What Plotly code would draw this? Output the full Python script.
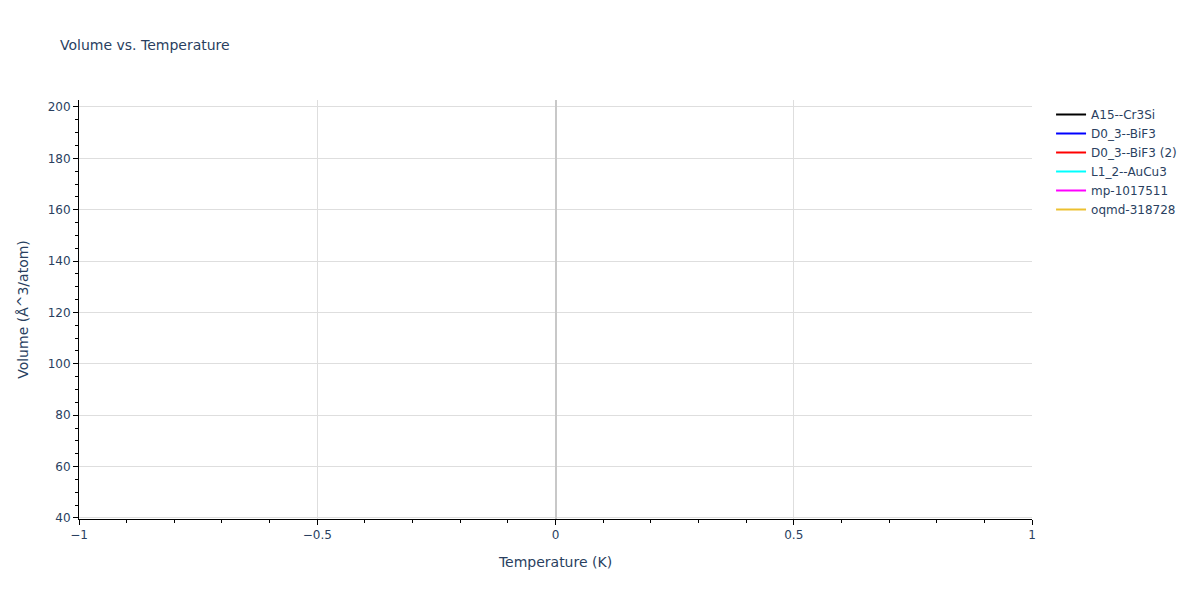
import plotly.graph_objects as go

# each structure only has a single point at T = 0 K, so no line gets drawn
names = ['A15--Cr3Si', 'D0_3--BiF3', 'D0_3--BiF3 (2)', 'L1_2--AuCu3', 'mp-1017511', 'oqmd-318728']
colors = ['black', 'blue', 'red', 'cyan', 'magenta', '#ecc030']
temperature = [0.0]
volumes = [[48.0], [201.0], [200.5], [42.0], [40.5], [60.0]]

fig = go.Figure()
for name, color, vol in zip(names, colors, volumes):
    fig.add_trace(go.Scatter(x=temperature, y=vol, mode='lines', name=name,
                             line=dict(color=color, width=2)))

axis_style = dict(
    showline=True, linecolor='black', linewidth=1,
    ticks='outside', tickcolor='black', ticklen=5,
    showgrid=True, gridcolor='#dedede', gridwidth=1,
    title_font=dict(size=14),
)

# margins are a bit smaller at left/top since the page body adds 8px
fig.update_layout(
    template='plotly_white',
    font=dict(family='Verdana, DejaVu Sans, sans-serif', size=12, color='#2a3f5f'),
    title=dict(text='Volume vs. Temperature', x=52 / 1200, y=0.938, yanchor='middle',
               font=dict(size=14)),
    width=1200, height=600,
    margin=dict(l=71, r=176, t=92, b=89),
    plot_bgcolor='white',
    xaxis=dict(title='Temperature (K)', range=[-1, 1], dtick=0.5,
               zeroline=True, zerolinecolor='#c8c8c8', zerolinewidth=2,
               minor=dict(ticks='outside', dtick=0.1, ticklen=3, tickcolor='black', showgrid=False),
               **axis_style),
    yaxis=dict(title='Volume (Å^3/atom)', range=[39.6, 202.7], dtick=20,
               zeroline=False,
               minor=dict(ticks='outside', dtick=5, ticklen=3, tickcolor='black', showgrid=False),
               **axis_style),
    legend=dict(x=1.02, y=1, font=dict(size=12)),
)

fig.write_html("out.html")
